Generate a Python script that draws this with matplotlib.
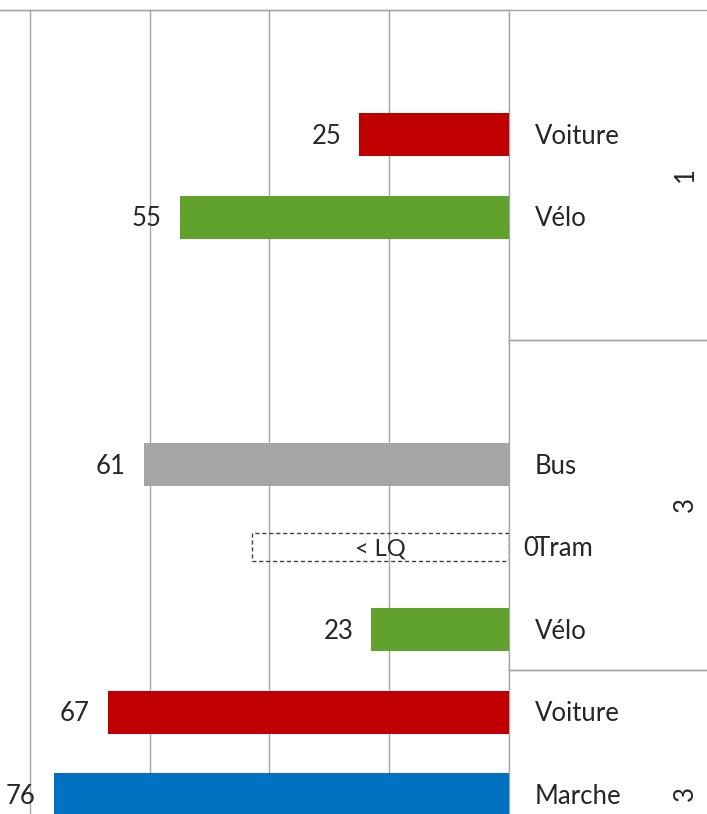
import matplotlib
matplotlib.use("Agg")
import matplotlib.pyplot as plt
from matplotlib.patches import Rectangle
import numpy as np

plt.rcParams['font.family'] = ['Lato', 'DejaVu Sans']

# ---- data (top to bottom) ----
categories = ["", "Voiture", "Vélo", "", "", "Bus", "Tram", "Vélo", "Voiture", "Marche", ""]
values = [np.nan, 25, 55, np.nan, np.nan, 61, 0, 23, 67, 76, np.nan]
value_labels = ["", "25", "55", "", "", "61", "0", "23", "67", "76", ""]
bar_colors = ["#ffffff", "#C00000", "#60A22B", "#ffffff", "#ffffff", "#A5A5A5",
              "#A5A5A5", "#60A22B", "#C00000", "#0070C0", "#ffffff"]
group_labels = ["1", "3", "3"]
group_sizes = [4, 4, 3]
lq_text = "< LQ"
lq_row = 6
lq_span = 43

W, H = 707, 814
fig = plt.figure(figsize=(W / 100, H / 100), dpi=100)
top_px = 10
row_px = 82.5
n = len(categories)
ax_h = n * row_px
ax_w = 509
ax = fig.add_axes([0, (H - top_px - ax_h) / H, ax_w / W, ax_h / H])

rows = np.arange(n)
vals = np.nan_to_num(np.array(values, dtype=float))
ax.barh(rows + 0.01, vals, height=0.52, color=bar_colors, zorder=3)

ax.set_xlim(85, 0)
ax.set_ylim(n - 0.5, -0.5)
ax.set_xticks([0, 20, 40, 60, 80])
ax.set_yticks([])
ax.tick_params(axis='x', length=0, labelbottom=False)
ax.grid(axis='x', color='#A6A6A6', linewidth=1.0, zorder=0)
for s in ['left', 'bottom']:
    ax.spines[s].set_visible(False)
for s in ['top', 'right']:
    ax.spines[s].set_color('#A6A6A6')
    ax.spines[s].set_linewidth(1.0)

txt_color = '#262626'
fs = 18.5
px_per_unit = ax_w / 85.0
off = 18 / px_per_unit
dy = 0.03

trans = ax.get_yaxis_transform()  # x in axes, y in data
for i, (c, v, lab) in enumerate(zip(categories, values, value_labels)):
    if c:
        ax.text(535 / ax_w, i + dy, c, transform=trans, ha='left', va='center',
                fontsize=fs, color=txt_color, clip_on=False)
    if lab:
        if v == 0:
            ax.text(-14 / px_per_unit, i + dy, lab, ha='left', va='center',
                    fontsize=fs, color=txt_color, clip_on=False)
        else:
            ax.text(v + off, i + dy, lab, ha='right', va='center',
                    fontsize=fs, color=txt_color, clip_on=False)

# LQ dashed box
rect = Rectangle((0, lq_row + 0.01 - 0.165), lq_span, 0.33, fill=False,
                 edgecolor='#404040', linestyle=(0, (3, 2)), linewidth=1.0, zorder=4)
ax.add_patch(rect)
ax.text(lq_span / 2, lq_row + dy, lq_text, ha='center', va='center',
        fontsize=fs - 1.5, color=txt_color, zorder=5)

# group separators and labels
x_right = W / ax_w
start = -0.5
ax.plot([0, 1], [start, start], transform=trans, color='#A6A6A6', lw=1.0, clip_on=False)
for g, size in zip(group_labels, group_sizes):
    end = start + size
    ax.plot([1, x_right], [start, start], transform=trans, color='#A6A6A6', lw=1.0, clip_on=False)
    ax.plot([1, x_right], [end, end], transform=trans, color='#A6A6A6', lw=1.0, clip_on=False)
    ax.text(685 / ax_w, (start + end) / 2, g, transform=trans, rotation=90,
            ha='center', va='center', fontsize=fs, color=txt_color, clip_on=False)
    start = end

fig.savefig("out.png", dpi=100)
